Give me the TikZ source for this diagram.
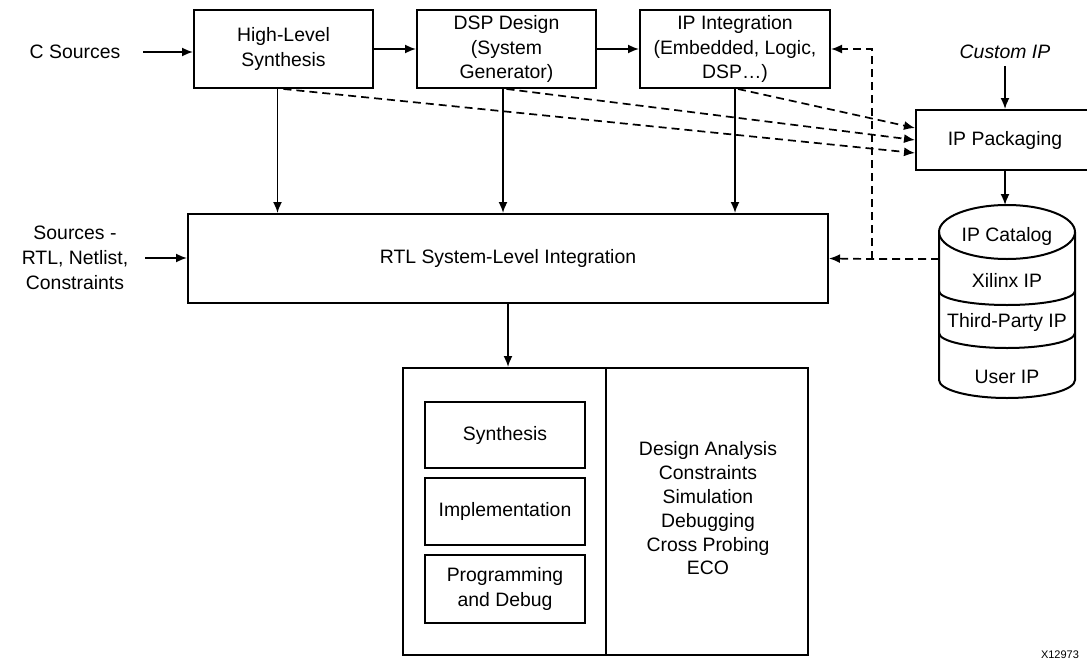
\documentclass[tikz,border=0pt]{standalone}
\usepackage{fontspec}
\setmainfont{Liberation Sans}
\usetikzlibrary{arrows.meta}

\begin{document}
\begin{tikzpicture}[x=0.5pt,y=-0.5pt,
    font=\fontsize{9.7}{12.4}\selectfont,
    box/.style={draw,line width=1pt,align=center,inner sep=0pt},
    arr/.style={line width=0.85pt,-{Latex[length=5.5pt,width=4.5pt]}},
    dsh/.style={dash pattern=on 4pt off 2.5pt}]
    \useasboundingbox (0,0) rectangle (1087,664);
    % top row
    \node (csrc) at (75,52) {C Sources};
    \node[box,minimum width=89.5pt,minimum height=39pt] (hls) at (283.5,49) {High-Level\\Synthesis};
    \node[box,minimum width=89.5pt,minimum height=39pt] (dsp) at (506.5,49) {DSP Design\\(System\\Generator)};
    \node[box,minimum width=95pt,minimum height=39pt] (ipint) at (735,49) {IP Integration\\(Embedded, Logic,\\DSP\dots)};
    \node[font=\fontsize{9.7}{12.4}\selectfont\itshape] (custom) at (1005,52) {Custom IP};
    \node[box,minimum width=89pt,minimum height=30pt] (ippkg) at (1005,140) {IP Packaging};
    \draw[arr] (csrc.east) ++(8pt,0) coordinate (cin) (cin) -- (cin -| hls.west);
    \draw[arr] (hls) -- (dsp);
    \draw[arr] (dsp) -- (ipint);
    \draw[arr] (custom) -- (ippkg);
    % middle
    \node (srcs) at (75,258) [align=center] {Sources -\\RTL, Netlist,\\Constraints};
    \node[box,minimum width=320pt,minimum height=44.5pt] (rtl) at (508,258.5) {RTL System-Level Integration};
    \draw[arr] (srcs.east) ++(5pt,0) coordinate (sin) (sin) -- (sin -| rtl.west);
    \draw[arr] ([xshift=-3pt]hls.south) -- ([xshift=-3pt]hls.south |- rtl.north);
    \draw[arr] ([xshift=-1.75pt]dsp.south) -- ([xshift=-1.75pt]dsp.south |- rtl.north);
    \draw[arr] (ipint.south) -- (ipint.south |- rtl.north);
    \draw[arr,dsh] (hls.south) -- ([yshift=-6.5pt]ippkg.west);
    \draw[arr,dsh] (dsp.south) -- (ippkg.west);
    \draw[arr,dsh] ([xshift=1.5pt]ipint.south) -- ([yshift=6pt]ippkg.west);
    % IP catalog cylinder
    \draw[line width=1pt] (1007,232) ellipse [x radius=34pt,y radius=13.5pt];
    \draw[line width=1pt] (939,232) -- (939,380) arc[start angle=180,end angle=360,x radius=34pt,y radius=9pt] -- (1075,232);
    \draw[line width=1pt] (939,291) arc[start angle=180,end angle=360,x radius=34pt,y radius=7pt];
    \draw[line width=1pt] (939,333) arc[start angle=180,end angle=360,x radius=34pt,y radius=7.5pt];
    \coordinate (cattop) at (1005,205);
    \coordinate (catw) at (939,259);
    \coordinate (jn) at (872,259);
    \node (cat) at (1007,236) {IP Catalog};
    \node (xil) at (1007,280) {Xilinx IP};
    \node (third) at (1007,322) {Third-Party IP};
    \node (user) at (1007,377) {User IP};
    \draw[arr] (ippkg.south) -- (cattop);
    \draw[arr,dsh] (catw) -- (jn) -- (rtl.east);
    \draw[arr,dsh] (jn) |- (ipint.east);
    % bottom
    \node[box,minimum width=202.5pt,minimum height=143.5pt] (flow) at (605.5,511.5) {};
    \draw[line width=1pt] (flow.north) -- (flow.south);
    \node[box,minimum width=80pt,minimum height=33pt] (synth) at (505,435) {Synthesis};
    \node[box,minimum width=80pt,minimum height=33.5pt] (impl) at (505,511.5) {Implementation};
    \node[box,minimum width=80pt,minimum height=34pt] (prog) at (505,589) {Programming\\and Debug};
    \node[align=center,font=\fontsize{9.7}{11.9}\selectfont] (tools) at (708,508.5) {Design Analysis\\Constraints\\Simulation\\Debugging\\Cross Probing\\ECO};
    \draw[arr] (rtl.south) -- (rtl.south |- flow.north);
    \node[anchor=east,font=\fontsize{5.5}{6}\selectfont] (fig) at (1086,655) {X12973};
\end{tikzpicture}
\end{document}
